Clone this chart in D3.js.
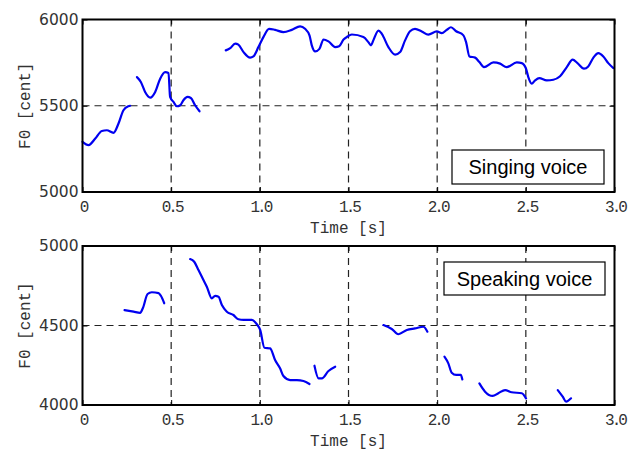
<!DOCTYPE html>
<html>
<head>
<meta charset="utf-8">
<script src="https://cdn.jsdelivr.net/npm/d3@7"></script>
<style>
  body { margin: 0; background: #fff; }
  svg { display: block; }
</style>
</head>
<body>
<div id="chart"></div>
<script>
// tick labels
var xTicks = [0, 0.5, 1.0, 1.5, 2.0, 2.5, 3.0];
var xTickLabels = ["0", "0.5", "1.0", "1.5", "2.0", "2.5", "3.0"];
var singTicks = [5000, 5500, 6000];
var speakTicks = [4000, 4500, 5000];

// singing voice F0 contour, [time s, cent]
var singSeg1 = [[0,5291],[0.034,5272],[0.072,5310],[0.109,5354],[0.137,5358],[0.175,5343],
  [0.203,5397],[0.231,5474],[0.259,5497],[0.269,5500]];
var singSeg2 = [[0.307,5666],[0.329,5638],[0.353,5580],[0.382,5547],[0.41,5580],[0.438,5657],
  [0.466,5695],[0.485,5690],[0.494,5551],[0.513,5522],[0.532,5497],[0.551,5503],[0.569,5532],
  [0.592,5551],[0.611,5545],[0.635,5503],[0.66,5468]];
var singSeg3 = [[0.808,5821],[0.833,5834],[0.861,5860],[0.879,5854],[0.908,5811],[0.945,5779],
  [0.964,5786],[0.992,5840],[1.02,5898],[1.052,5946],[1.086,5940],[1.133,5927],[1.18,5940],
  [1.227,5960],[1.255,5946],[1.28,5908],[1.293,5850],[1.312,5815],[1.336,5830],[1.359,5884],
  [1.387,5873],[1.425,5840],[1.447,5845],[1.472,5884],[1.49,5898],[1.519,5913],[1.584,5898],
  [1.612,5869],[1.627,5850],[1.64,5879],[1.669,5936],[1.688,5917],[1.725,5840],[1.763,5796],
  [1.791,5811],[1.819,5879],[1.847,5932],[1.875,5946],[1.913,5931],[1.95,5912],[1.998,5931],
  [2.026,5921],[2.054,5940],[2.078,5955],[2.107,5932],[2.148,5908],[2.163,5869],[2.182,5786],
  [2.214,5779],[2.238,5753],[2.264,5724],[2.317,5751],[2.355,5744],[2.392,5724],[2.449,5751],
  [2.477,5747],[2.501,5715],[2.514,5666],[2.533,5628],[2.552,5647],[2.576,5660],[2.618,5647],
  [2.655,5651],[2.693,5671],[2.731,5724],[2.764,5767],[2.791,5747],[2.828,5715],[2.852,5728],
  [2.881,5779],[2.909,5805],[2.937,5786],[2.965,5747],[2.994,5718]];

// speaking voice F0 contour, [time s, cent]
var speakSeg1 = [[0.237,4597],[0.288,4587],[0.325,4580],[0.34,4608],[0.367,4698],[0.391,4709],
  [0.429,4704],[0.442,4687],[0.461,4640]];
var speakSeg2 = [[0.607,4918],[0.63,4901],[0.654,4849],[0.682,4786],[0.701,4744],[0.729,4671],
  [0.748,4686],[0.767,4681],[0.786,4629],[0.814,4587],[0.851,4566],[0.879,4539],[0.908,4535],
  [0.955,4535],[0.983,4508],[1.002,4472],[1.026,4360],[1.058,4356],[1.086,4283],[1.114,4231],
  [1.133,4182],[1.171,4157],[1.209,4157],[1.246,4151],[1.28,4132]];
var speakSeg3 = [[1.308,4247],[1.331,4168],[1.35,4168],[1.387,4214],[1.425,4241]];
var speakSeg4 = [[1.697,4503],[1.744,4478],[1.781,4445],[1.829,4472],[1.875,4482],[1.922,4492],
  [1.945,4461]];
var speakSeg5 = [[2.041,4304],[2.063,4262],[2.082,4203],[2.107,4189],[2.133,4189],[2.142,4161]];
var speakSeg6 = [[2.238,4136],[2.27,4084],[2.313,4057],[2.345,4074],[2.383,4094],[2.42,4080],
  [2.477,4074],[2.501,4042]];
var speakSeg7 = [[2.68,4094],[2.708,4052],[2.727,4021],[2.755,4042]];

var width = 639, height = 450;
var svg = d3.select("#chart").append("svg")
    .attr("width", width)
    .attr("height", height);

var left = 82.5, right = 614.5;

function drawPanel(top, bottom, yDomain, yTicks, segments, legendText, box) {
    var x = d3.scaleLinear().domain([0, 3]).range([left, right]);
    var y = d3.scaleLinear().domain(yDomain).range([bottom, top]);
    var g = svg.append("g");

    // dashed grid
    g.selectAll("line.vgrid")
      .data(xTicks.slice(1, -1))
      .enter().append("line")
      .attr("x1", d => x(d)).attr("x2", d => x(d))
      .attr("y1", top).attr("y2", bottom)
      .attr("stroke", "#222").attr("stroke-width", 1.2)
      .attr("stroke-dasharray", "7,5");
    g.selectAll("line.hgrid")
      .data(yTicks.slice(1, -1))
      .enter().append("line")
      .attr("x1", left).attr("x2", right)
      .attr("y1", d => y(d)).attr("y2", d => y(d))
      .attr("stroke", "#222").attr("stroke-width", 1.2)
      .attr("stroke-dasharray", "7,5");

    // inward ticks on all sides
    var xAxisB = d3.axisBottom(x).tickValues(xTicks).tickSizeInner(-5).tickSizeOuter(0)
        .tickFormat((d, i) => xTickLabels[i]);
    var xAxisT = d3.axisTop(x).tickValues(xTicks).tickSizeInner(-5).tickSizeOuter(0)
        .tickFormat("");
    var yAxisL = d3.axisLeft(y).tickValues(yTicks).tickSizeInner(-5).tickSizeOuter(0)
        .tickFormat(d3.format("d"));
    var yAxisR = d3.axisRight(y).tickValues(yTicks).tickSizeInner(-5).tickSizeOuter(0)
        .tickFormat("");

    var gb = g.append("g").attr("transform", "translate(0," + bottom + ")").call(xAxisB);
    gb.selectAll("text")
      .attr("y", 6).attr("dy", "0.9em")
      .style("font-family", "'Liberation Mono', monospace")
      .style("font-size", "16px")
      .style("letter-spacing", "-3px")
      .attr("fill", "#333");
    g.append("g").attr("transform", "translate(0," + top + ")").call(xAxisT);
    var gl = g.append("g").attr("transform", "translate(" + left + ",0)").call(yAxisL);
    gl.selectAll("text")
      .attr("x", -4)
      .style("font-family", "'DejaVu Sans', sans-serif")
      .style("font-size", "15.5px")
      .attr("fill", "#333");
    g.append("g").attr("transform", "translate(" + right + ",0)").call(yAxisR);
    g.selectAll(".domain").remove();
    g.selectAll(".tick line").attr("stroke", "#000").attr("stroke-width", 1);

    // F0 contours
    var line = d3.line()
      .x(d => x(d[0])).y(d => y(d[1]))
      .curve(d3.curveMonotoneX);
    g.selectAll("path.f0")
      .data(segments)
      .enter().append("path")
      .attr("class", "f0")
      .attr("d", line)
      .attr("fill", "none")
      .attr("stroke", "#0000f0")
      .attr("stroke-width", 2.2)
      .attr("stroke-linejoin", "round")
      .attr("stroke-linecap", "round");

    // frame
    g.append("rect")
      .attr("x", left).attr("y", top)
      .attr("width", right - left).attr("height", bottom - top)
      .attr("fill", "none").attr("stroke", "#000").attr("stroke-width", 2);

    // legend box
    g.append("rect")
      .attr("x", box[0]).attr("y", box[1])
      .attr("width", box[2]).attr("height", box[3])
      .attr("fill", "#fff").attr("stroke", "#000").attr("stroke-width", 1.2);
    g.append("text")
      .attr("x", box[0] + box[2] / 2).attr("y", box[1] + box[3] / 2)
      .attr("dy", "0.36em")
      .attr("text-anchor", "middle")
      .style("font-family", "'Liberation Sans', Arial, sans-serif")
      .style("font-size", "20px")
      .text(legendText);

    // axis labels
    g.append("text")
      .attr("x", (left + right) / 2).attr("y", bottom + 41)
      .attr("text-anchor", "middle")
      .style("font-family", "'Liberation Mono', monospace")
      .style("font-size", "16px")
      .attr("fill", "#333")
      .text("Time [s]");
    g.append("text")
      .attr("transform", "translate(30," + ((top + bottom) / 2) + ") rotate(-90)")
      .attr("text-anchor", "middle")
      .style("font-family", "'Liberation Mono', monospace")
      .style("font-size", "16px")
      .attr("fill", "#333")
      .text("F0 [cent]");
}

drawPanel(19.5, 192, [5000, 6000], singTicks,
    [singSeg1, singSeg2, singSeg3], "Singing voice", [452, 150, 152, 34]);
drawPanel(246, 405, [4000, 5000], speakTicks,
    [speakSeg1, speakSeg2, speakSeg3, speakSeg4, speakSeg5, speakSeg6, speakSeg7],
    "Speaking voice", [444, 262, 161, 33]);
</script>
</body>
</html>
